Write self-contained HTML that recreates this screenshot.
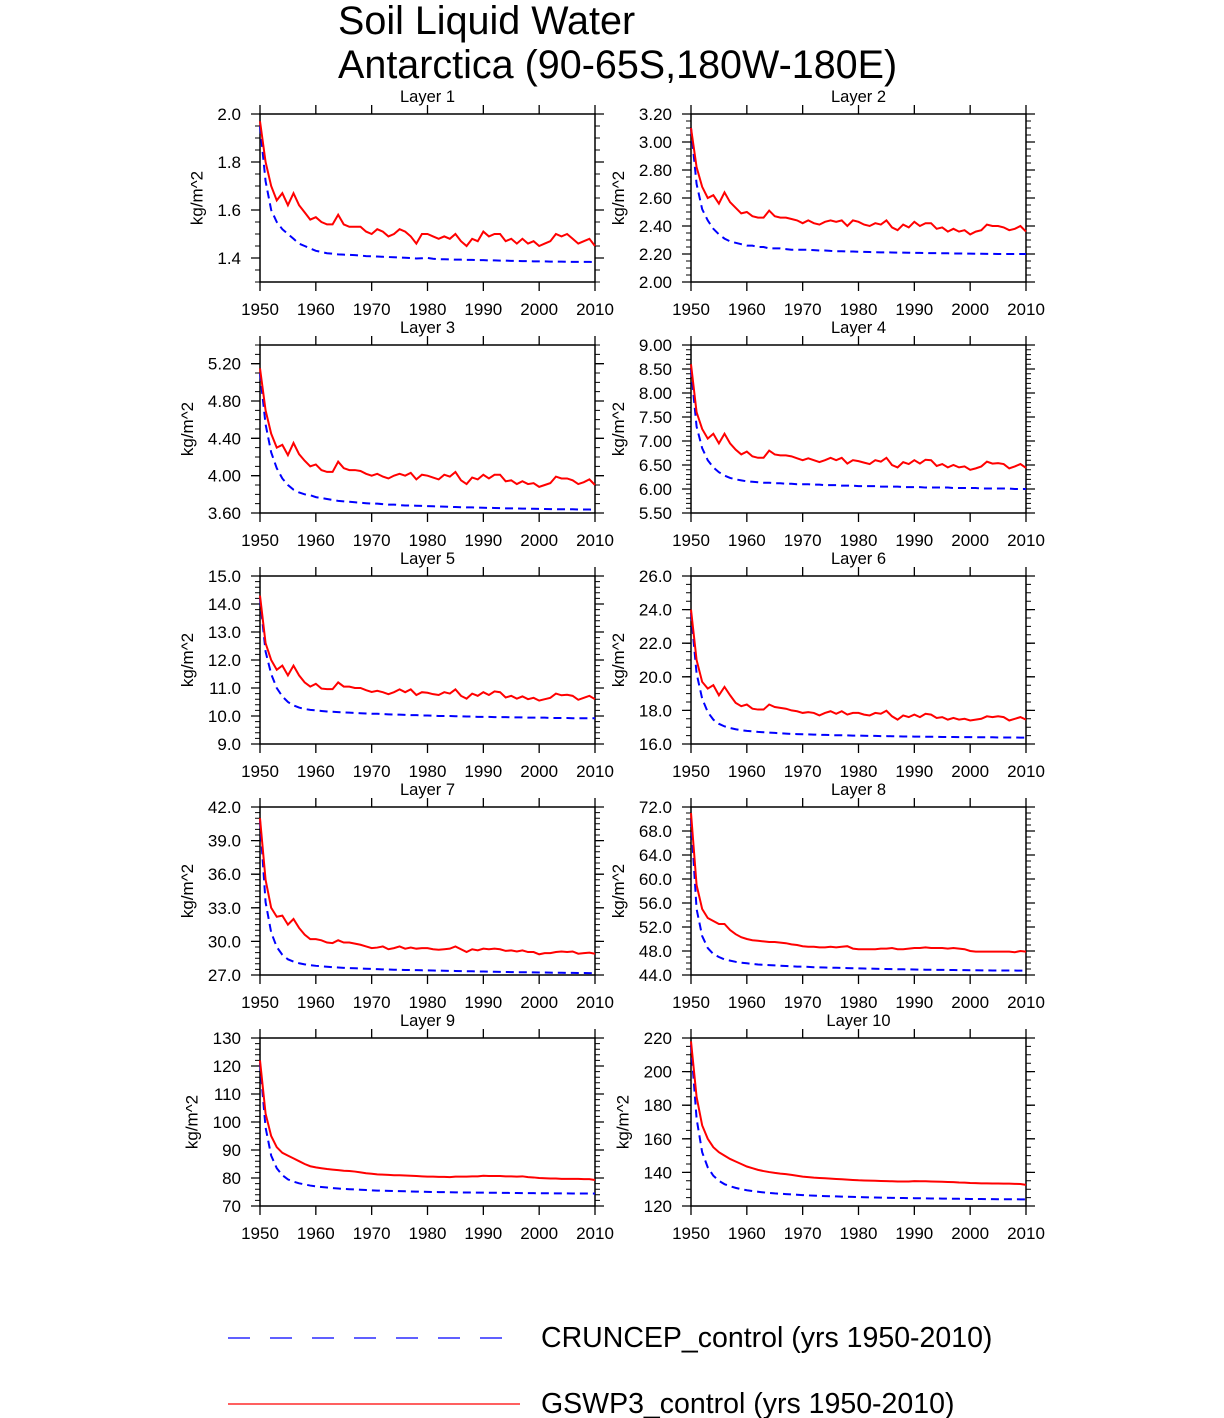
<!DOCTYPE html>
<html><head><meta charset="utf-8"><style>
body{margin:0;background:#fff}
svg{display:block;font-family:"Liberation Sans",Arial,sans-serif}
</style></head><body>
<svg id="chart" width="1224" height="1418" viewBox="0 0 1224 1418" xmlns="http://www.w3.org/2000/svg">
<text x="338" y="34" font-size="39.5">Soil Liquid Water</text>
<text x="338" y="78" font-size="39.5">Antarctica (90-65S,180W-180E)</text>
<g id="panels"></g>
<g>
<line x1="228" y1="1338" x2="508" y2="1338" stroke="#0000ff" stroke-width="1.2" stroke-dasharray="22,20"/>
<text x="541" y="1347" font-size="28.5">CRUNCEP_control (yrs 1950-2010)</text>
<line x1="228" y1="1404" x2="520" y2="1404" stroke="#ff0000" stroke-width="1.2"/>
<text x="541" y="1413" font-size="28.5">GSWP3_control (yrs 1950-2010)</text>
</g>
</svg>
<script>
const years=[];for(let y=1950;y<=2010;y++)years.push(y);
const xTicks=[1950,1960,1970,1980,1990,2000,2010];
const yRanges=[[1.3,2.0],[2.0,3.2],[3.6,5.4],[5.5,9.0],[9,15],[16,26],[27,42],[44,72],[70,130],[120,220]];
const yMajor=[0.2,0.2,0.4,0.5,1,2,3,4,10,20];
const yMinor=[0.05,0.05,0.1,0.1,0.2,0.5,0.5,1,2,5];
const yDecimals=[1,2,2,2,1,1,1,1,0,0];
const red1=[1.97,1.80,1.70,1.64,1.67,1.62,1.67,1.62,1.59,1.56,1.57,1.55,1.54,1.54,1.58,1.54,1.53,1.53,1.53,1.51,1.50,1.52,1.51,1.49,1.50,1.52,1.51,1.49,1.46,1.50,1.50,1.49,1.48,1.49,1.48,1.50,1.47,1.45,1.48,1.47,1.51,1.49,1.50,1.50,1.47,1.48,1.46,1.48,1.46,1.47,1.45,1.46,1.47,1.50,1.49,1.50,1.48,1.46,1.47,1.48,1.45];
const blue1=[1.95,1.72,1.60,1.55,1.52,1.50,1.48,1.46,1.45,1.44,1.43,1.425,1.42,1.418,1.415,1.414,1.413,1.412,1.41,1.408,1.407,1.406,1.405,1.404,1.403,1.402,1.401,1.40,1.398,1.399,1.40,1.397,1.395,1.395,1.394,1.393,1.393,1.392,1.392,1.391,1.391,1.39,1.39,1.389,1.389,1.388,1.388,1.387,1.387,1.386,1.386,1.386,1.385,1.385,1.385,1.384,1.384,1.384,1.384,1.384,1.383];
const red2=[3.10,2.82,2.68,2.60,2.62,2.56,2.64,2.57,2.53,2.49,2.50,2.47,2.46,2.46,2.51,2.47,2.46,2.46,2.45,2.44,2.42,2.44,2.42,2.41,2.43,2.44,2.43,2.44,2.40,2.44,2.43,2.41,2.40,2.42,2.41,2.44,2.39,2.37,2.41,2.39,2.43,2.40,2.42,2.42,2.38,2.39,2.36,2.38,2.36,2.37,2.34,2.36,2.37,2.41,2.40,2.40,2.39,2.37,2.38,2.40,2.36];
const blue2=[3.10,2.70,2.52,2.44,2.38,2.34,2.31,2.29,2.28,2.27,2.26,2.26,2.25,2.25,2.24,2.24,2.24,2.235,2.23,2.23,2.23,2.23,2.228,2.225,2.225,2.222,2.22,2.22,2.218,2.218,2.216,2.215,2.214,2.213,2.212,2.212,2.211,2.21,2.21,2.209,2.208,2.208,2.207,2.206,2.206,2.205,2.205,2.204,2.204,2.203,2.203,2.202,2.202,2.201,2.201,2.2,2.2,2.2,2.2,2.2,2.2];
const red3=[5.15,4.70,4.45,4.30,4.33,4.22,4.35,4.23,4.16,4.10,4.12,4.06,4.04,4.04,4.15,4.08,4.06,4.06,4.05,4.02,4.00,4.02,3.99,3.97,4.00,4.02,4.00,4.03,3.96,4.01,4.00,3.98,3.96,4.01,3.99,4.04,3.95,3.91,3.98,3.96,4.01,3.97,4.01,4.01,3.94,3.95,3.91,3.94,3.91,3.92,3.88,3.90,3.92,3.99,3.97,3.97,3.95,3.91,3.93,3.96,3.90];
const blue3=[5.10,4.55,4.25,4.08,3.97,3.90,3.85,3.82,3.80,3.79,3.77,3.76,3.75,3.74,3.73,3.725,3.72,3.715,3.71,3.705,3.70,3.70,3.695,3.69,3.69,3.685,3.68,3.68,3.678,3.676,3.674,3.672,3.67,3.668,3.666,3.664,3.662,3.66,3.66,3.658,3.656,3.655,3.654,3.652,3.65,3.65,3.648,3.647,3.646,3.645,3.644,3.643,3.642,3.641,3.64,3.64,3.64,3.638,3.638,3.637,3.636];
const red4=[8.6,7.6,7.25,7.05,7.15,6.95,7.15,6.95,6.82,6.72,6.78,6.68,6.65,6.65,6.80,6.72,6.70,6.70,6.68,6.64,6.60,6.64,6.60,6.56,6.60,6.65,6.60,6.65,6.53,6.60,6.58,6.55,6.52,6.60,6.57,6.65,6.50,6.45,6.56,6.52,6.60,6.53,6.61,6.60,6.48,6.52,6.45,6.50,6.45,6.47,6.40,6.43,6.47,6.57,6.53,6.54,6.52,6.43,6.47,6.52,6.44];
const blue4=[8.5,7.3,6.85,6.6,6.45,6.35,6.28,6.23,6.2,6.18,6.16,6.15,6.14,6.13,6.13,6.12,6.12,6.11,6.11,6.1,6.1,6.1,6.09,6.09,6.08,6.08,6.08,6.07,6.07,6.07,6.06,6.06,6.06,6.06,6.05,6.05,6.05,6.05,6.04,6.04,6.04,6.04,6.03,6.03,6.03,6.03,6.03,6.02,6.02,6.02,6.02,6.02,6.01,6.01,6.01,6.01,6.01,6.01,6.0,6.0,6.0];
const red5=[14.3,12.6,12.0,11.65,11.8,11.45,11.8,11.45,11.2,11.05,11.15,10.98,10.96,10.96,11.2,11.05,11.05,11.0,11.0,10.92,10.86,10.9,10.85,10.78,10.85,10.95,10.85,10.95,10.75,10.85,10.83,10.78,10.75,10.85,10.8,10.95,10.72,10.62,10.8,10.72,10.85,10.75,10.88,10.85,10.66,10.72,10.62,10.7,10.6,10.65,10.55,10.6,10.65,10.8,10.74,10.76,10.72,10.58,10.65,10.72,10.6];
const blue5=[14.2,12.3,11.5,11.0,10.7,10.5,10.38,10.3,10.25,10.22,10.2,10.18,10.16,10.15,10.14,10.13,10.12,10.11,10.1,10.09,10.08,10.08,10.07,10.06,10.05,10.05,10.04,10.03,10.03,10.02,10.02,10.01,10.0,10.0,10.0,9.99,9.99,9.98,9.98,9.97,9.97,9.97,9.96,9.96,9.96,9.95,9.95,9.95,9.94,9.94,9.94,9.94,9.93,9.93,9.93,9.93,9.92,9.92,9.92,9.92,9.92];
const red6=[24.0,21.0,19.7,19.3,19.5,18.9,19.4,18.9,18.45,18.25,18.35,18.1,18.05,18.05,18.35,18.2,18.15,18.1,18.0,17.95,17.85,17.9,17.85,17.7,17.85,17.95,17.8,17.95,17.75,17.85,17.85,17.75,17.7,17.85,17.8,17.98,17.65,17.45,17.7,17.6,17.75,17.6,17.8,17.75,17.55,17.6,17.45,17.55,17.45,17.5,17.4,17.45,17.5,17.65,17.6,17.65,17.6,17.4,17.5,17.6,17.45];
const blue6=[23.8,20.2,18.7,17.9,17.45,17.2,17.05,16.95,16.88,16.82,16.78,16.75,16.72,16.7,16.68,16.66,16.64,16.62,16.6,16.59,16.58,16.57,16.56,16.55,16.54,16.53,16.52,16.52,16.51,16.5,16.5,16.49,16.48,16.48,16.47,16.47,16.46,16.46,16.45,16.45,16.44,16.44,16.43,16.43,16.43,16.42,16.42,16.42,16.41,16.41,16.41,16.4,16.4,16.4,16.4,16.39,16.39,16.39,16.39,16.38,16.38];
const red7=[41,35.5,33.0,32.2,32.3,31.5,32.0,31.2,30.6,30.2,30.2,30.1,29.9,29.85,30.1,29.9,29.9,29.8,29.7,29.55,29.4,29.45,29.55,29.3,29.4,29.55,29.35,29.45,29.35,29.4,29.4,29.3,29.25,29.3,29.35,29.55,29.3,29.05,29.3,29.2,29.35,29.3,29.35,29.3,29.15,29.2,29.1,29.2,29.05,29.05,28.85,28.95,28.95,29.05,29.1,29.05,29.1,28.9,28.95,29.0,28.9];
const blue7=[40.8,33.5,30.8,29.5,28.8,28.4,28.2,28.05,27.95,27.88,27.82,27.78,27.74,27.7,27.67,27.64,27.62,27.6,27.58,27.56,27.54,27.52,27.5,27.49,27.47,27.46,27.45,27.44,27.43,27.42,27.41,27.4,27.39,27.38,27.37,27.36,27.35,27.34,27.33,27.32,27.31,27.3,27.29,27.28,27.27,27.26,27.25,27.24,27.24,27.23,27.22,27.22,27.21,27.2,27.2,27.19,27.19,27.18,27.18,27.17,27.17];
const red8=[71,59,55,53.5,53,52.5,52.5,51.5,50.8,50.3,50.0,49.8,49.7,49.6,49.5,49.5,49.4,49.3,49.1,49.0,48.8,48.7,48.7,48.6,48.6,48.7,48.6,48.7,48.8,48.4,48.3,48.3,48.3,48.3,48.4,48.4,48.5,48.3,48.3,48.4,48.5,48.5,48.6,48.5,48.5,48.5,48.4,48.5,48.4,48.3,48.0,47.9,47.9,47.9,47.9,47.9,47.9,47.9,47.8,48.0,47.9];
const blue8=[70,55,50.5,48.5,47.5,47.0,46.6,46.4,46.2,46.05,45.95,45.85,45.75,45.7,45.65,45.6,45.55,45.5,45.45,45.4,45.4,45.35,45.3,45.28,45.25,45.22,45.2,45.18,45.15,45.12,45.1,45.08,45.06,45.04,45.02,45.0,44.98,44.96,44.95,44.94,44.92,44.9,44.88,44.87,44.86,44.85,44.84,44.83,44.82,44.81,44.8,44.79,44.78,44.77,44.76,44.76,44.75,44.74,44.74,44.73,44.72];
const red9=[122,103,95,91,89,88,87,86,85,84.2,83.8,83.5,83.2,83,82.8,82.6,82.5,82.3,82,81.7,81.5,81.3,81.2,81.1,81,81,80.9,80.8,80.7,80.6,80.5,80.5,80.4,80.4,80.3,80.5,80.5,80.5,80.6,80.6,80.8,80.7,80.7,80.7,80.6,80.6,80.5,80.6,80.3,80.2,80.0,79.9,79.8,79.8,79.7,79.7,79.7,79.7,79.6,79.6,79.3];
const blue9=[121,98,88,83.5,81,79.5,78.7,78.1,77.7,77.3,77,76.8,76.6,76.4,76.25,76.1,76,75.9,75.8,75.7,75.6,75.5,75.45,75.4,75.35,75.3,75.25,75.2,75.15,75.1,75.05,75,74.97,74.94,74.91,74.88,74.85,74.82,74.8,74.78,74.76,74.74,74.72,74.7,74.68,74.66,74.64,74.62,74.6,74.58,74.56,74.55,74.53,74.52,74.5,74.49,74.48,74.47,74.46,74.45,74.44];
const red10=[218,185,168,160,155,152,150,148,146.5,145,143.5,142.5,141.5,140.8,140.2,139.7,139.3,139,138.5,138,137.5,137.2,136.9,136.7,136.5,136.3,136.1,135.9,135.7,135.5,135.3,135.2,135.1,135,134.9,134.8,134.7,134.6,134.6,134.6,134.8,134.7,134.7,134.6,134.5,134.4,134.3,134.2,134,133.9,133.7,133.6,133.5,133.5,133.4,133.4,133.3,133.3,133.2,133.1,132.6];
const blue10=[216,172,152,143,138,135,133,131.8,130.8,130,129.4,128.9,128.5,128.1,127.8,127.5,127.3,127.1,126.9,126.7,126.5,126.3,126.2,126.05,125.9,125.8,125.7,125.6,125.5,125.4,125.3,125.2,125.1,125.05,125,124.9,124.85,124.8,124.75,124.7,124.65,124.6,124.55,124.5,124.45,124.4,124.36,124.32,124.28,124.24,124.2,124.17,124.14,124.11,124.08,124.05,124.03,124.01,124,123.98,123.96];
const redSeries=[red1,red2,red3,red4,red5,red6,red7,red8,red9,red10];
const blueSeries=[blue1,blue2,blue3,blue4,blue5,blue6,blue7,blue8,blue9,blue10];

const NS='http://www.w3.org/2000/svg';
const root=document.getElementById('panels');
function mk(tag,attrs,parent){const e=document.createElementNS(NS,tag);for(const k in attrs)e.setAttribute(k,attrs[k]);parent.appendChild(e);return e;}
const W=335,H=168;
for(let i=0;i<10;i++){
  const col=i%2,row=Math.floor(i/2);
  const L=col?691:260,T=114+row*231,R=L+W,B=T+H;
  const [ymin,ymax]=yRanges[i];
  const xs=v=>L+(v-1950)/60*W;
  const ys=v=>B-(v-ymin)/(ymax-ymin)*H;
  const g=mk('g',{},root);
  
  
  const t=mk('text',{x:L+W/2,y:T-12,'font-size':16.5,'text-anchor':'middle'},g);
  t.textContent='Layer '+(i+1);
  
  
  for(const yr of xTicks){
    const x=xs(yr);
    const tk=mk('path',{d:`M${x},${T-9}V${T}M${x},${B}V${B+9}`,stroke:'#000','stroke-width':1.3},g);
    
    
    const lb=mk('text',{x:x,y:B+33,'font-size':17,'text-anchor':'middle'},g);
    lb.textContent=yr;
    
    
  }
  const maj=yMajor[i],mn=yMinor[i];
  let maxW=0;const labels=[];
  const start=Math.ceil(ymin/maj-1e-9)*maj;
  for(let v=start;v<=ymax+1e-9;v+=maj){
    const y=ys(v);
    const tk=mk('path',{d:`M${L-9},${y}H${L}M${R},${y}H${R+9}`,stroke:'#000','stroke-width':1.3},g);
    
    
    const lb=mk('text',{x:L-19,y:y+6,'font-size':17,'text-anchor':'end'},g);
    lb.textContent=v.toFixed(yDecimals[i]);
    
    
    labels.push(lb);
  }
  for(let v=Math.ceil(ymin/mn-1e-9)*mn;v<=ymax+1e-9;v+=mn){
    const y=ys(v);
    const mt=mk('path',{d:`M${L-5},${y}H${L}M${R},${y}H${R+5}`,stroke:'#000','stroke-width':1},g);
    
    
  }
  labels.forEach(l=>{maxW=Math.max(maxW,l.getComputedTextLength());});
  const tx=L-19-maxW-15;
  const yt=mk('text',{x:tx,y:T+H/2,'font-size':17,'text-anchor':'middle',transform:`rotate(-90 ${tx} ${T+H/2})`},g);
  yt.textContent='kg/m^2';
  
  
  const fr=mk('rect',{x:L,y:T,width:W,height:H,fill:'none',stroke:'#000','stroke-width':1.5},g);
  
  
  const bp=mk('polyline',{points:blueSeries[i].map((v,j)=>xs(years[j])+','+ys(v)).join(' '),fill:'none',stroke:'#0000ff','stroke-width':2,'stroke-dasharray':'8,5'},g);
  
  
  const rp=mk('polyline',{points:redSeries[i].map((v,j)=>xs(years[j])+','+ys(v)).join(' '),fill:'none',stroke:'#ff0000','stroke-width':2},g);
  
  
}
</script>
</body></html>
